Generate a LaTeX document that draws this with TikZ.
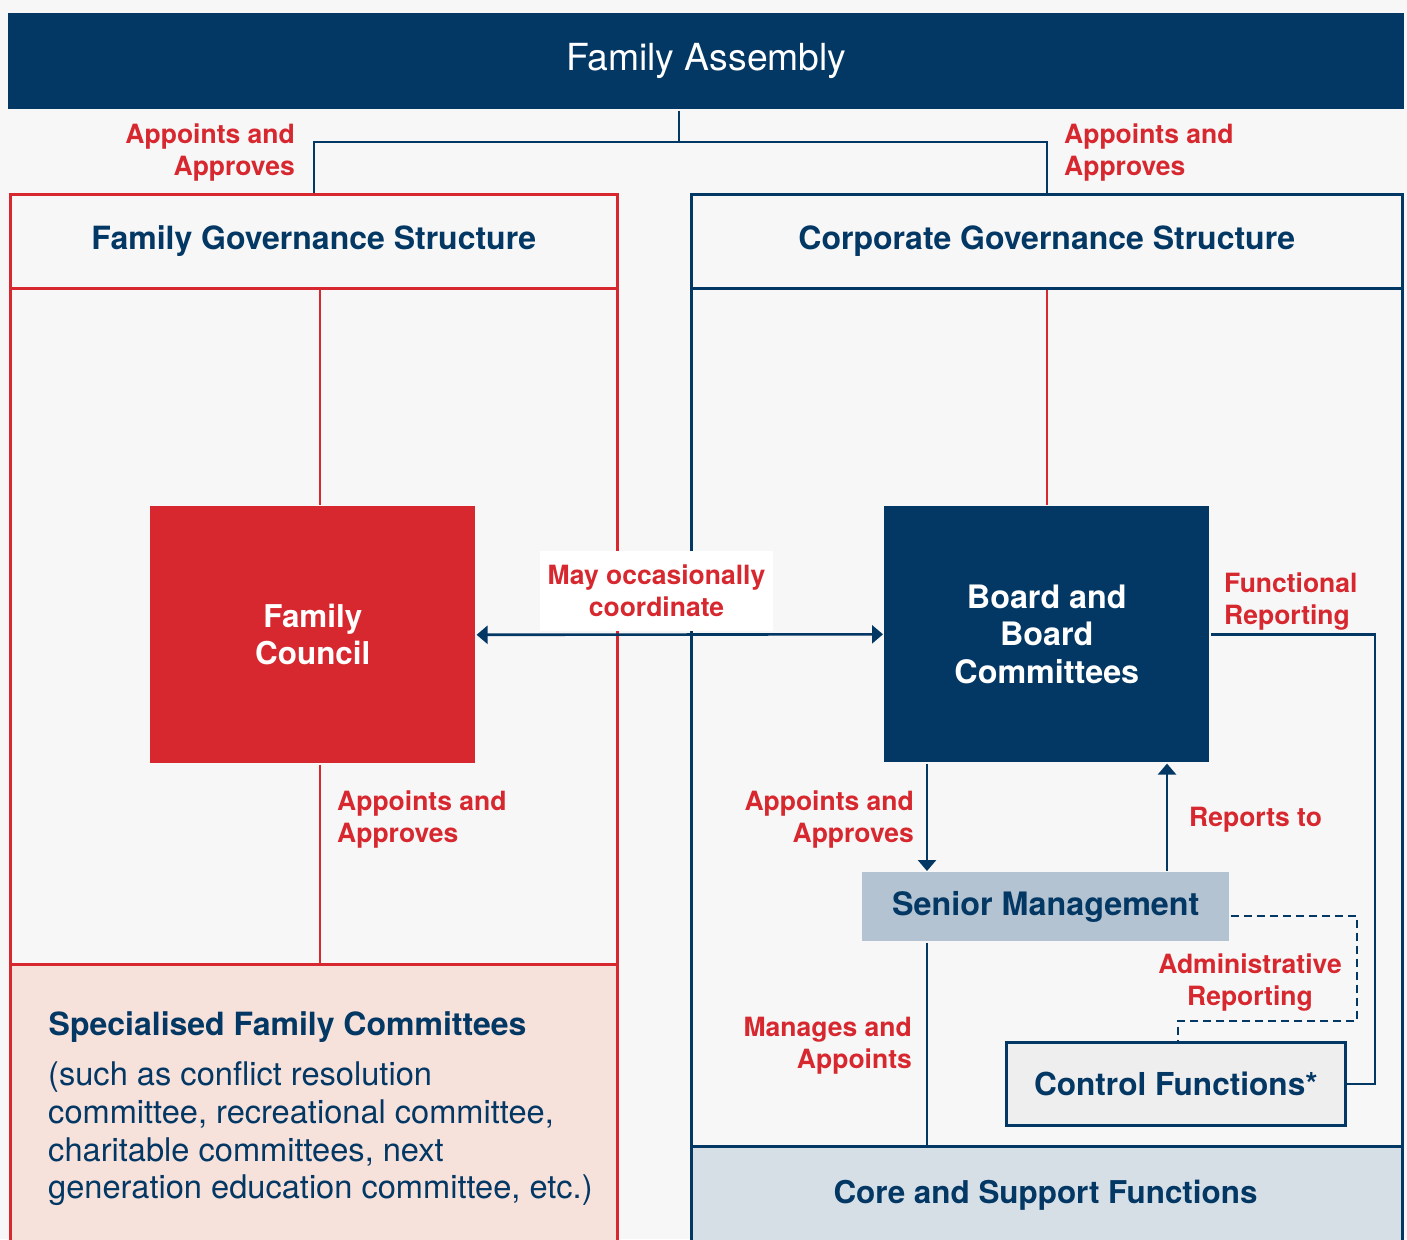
\documentclass[tikz,border=0pt]{standalone}
\usepackage{fontspec}
\setmainfont{TeX Gyre Heros}
\usetikzlibrary{arrows.meta}
\definecolor{navy}{HTML}{033764}
\definecolor{fgred}{HTML}{D7282F}
\definecolor{paper}{HTML}{F7F7F7}
\definecolor{smblue}{HTML}{B3C3D1}
\definecolor{pinkfill}{HTML}{F6E1DB}
\definecolor{corefill}{HTML}{D7DFE6}
\definecolor{ctrlfill}{HTML}{EFEEEE}
\newcommand{\fsz}[2]{\fontsize{#1}{#2}\selectfont}
\begin{document}
\begin{tikzpicture}[x=1pt,y=-1pt,
  region/.style={rectangle, inner sep=0pt, anchor=north west, line width=2.6pt},
  headtext/.style={font=\fsz{32}{37}\bfseries, text=navy},
  rlabel/.style={font=\fsz{26.5}{32}\bfseries, text=fgred, inner sep=0pt},
  navyline/.style={draw=navy, line width=2.6pt},
  redline/.style={draw=fgred, line width=2.6pt},
  tip/.style={-{Triangle[width=18pt,length=11pt]}},
  dtip/.style={{Triangle[width=18pt,length=11pt]}-{Triangle[width=18pt,length=11pt]}},
]
\useasboundingbox (0,0) rectangle (1407,1239);
\clip (0,0) rectangle (1407,1239);
\fill[paper] (0,0) rectangle (1407,1239);

% top bar
\node[region, fill=navy, minimum width=1396pt, minimum height=96pt,
      font=\fsz{37.3}{40}, text=white] (assembly) at (7,12) {Family Assembly};

% family governance column
\node[region, draw=fgred, fill=paper, minimum width=607pt, minimum height=94pt,
      headtext] (fam_head) at (9,193) {Family Governance Structure};
\node[region, draw=fgred, minimum width=607pt, minimum height=676pt] (fam_body) at (9,287) {};
\node[region, draw=fgred, fill=pinkfill, minimum width=607pt, minimum height=300pt] (fam_spec) at (9,963) {};
\node[anchor=west, inner sep=0pt, font=\fsz{32}{38}\bfseries, text=navy] (spec_title) at (48.5,1027)
  {Specialised Family Committees};
\node[anchor=west, inner sep=0pt, align=left, font=\fsz{32.6}{37.7}, text=navy] (spec_text) at (48,1134)
  {(such as conflict resolution\\committee, recreational committee,\\charitable committees, next\\generation education committee, etc.)};

% corporate governance column
\node[region, draw=navy, fill=paper, minimum width=711pt, minimum height=94pt,
      headtext] (corp_head) at (690,193) {Corporate Governance Structure};
\node[region, draw=navy, minimum width=711pt, minimum height=858pt] (corp_body) at (690,287) {};
\node[region, draw=navy, fill=corefill, minimum width=711pt, minimum height=120pt] (core) at (690,1145) {};
\node[headtext, font=\fsz{31.4}{37}\bfseries, inner sep=0pt] (core_txt) at (1045.5,1195) {Core and Support Functions};

% helper coordinates for connector positions
\coordinate (split) at (679,142);
\coordinate (famx) at (320,0);
\coordinate (downx) at (927,0);
\coordinate (upx) at (1167,0);
\coordinate (funcx) at (1375,0);
\coordinate (adm1) at (1357,916);
\coordinate (adm2) at (1357,1021);
\coordinate (adm3) at (1178,1021);

% main boxes
\node[region, fill=fgred, minimum width=325pt, minimum height=257pt, align=center,
      font=\fsz{31.4}{37}\bfseries, text=white] (council) at (149,505) {Family\\Council};
\node[region, fill=navy, minimum width=325pt, minimum height=256pt, align=center,
      font=\fsz{32.3}{37.5}\bfseries, text=white] (board) at (883,505) {Board and\\Board\\Committees};
\node[region, fill=smblue, minimum width=367pt, minimum height=69pt,
      font=\fsz{32.3}{38}\bfseries, text=navy] (senior) at (861,871) {Senior Management};
\node[region, draw=navy, fill=ctrlfill, minimum width=339pt, minimum height=83pt,
      font=\fsz{31.6}{37}\bfseries, text=navy] (ctrl) at (1005,1041) {Control Functions*};

% connectors
\draw[navyline] (assembly.south -| split) -- (split);
\draw[navyline] (fam_head.north) |- (split) -| (corp_head.north);
\draw[redline] (fam_head.south -| famx) -- (council.north -| famx);
\draw[redline] (council.south -| famx) -- (fam_spec.north -| famx);
\draw[redline] (corp_head.south) -- (board.north);
\draw[navyline, dtip] (council.east) -- (board.west);
\draw[navyline] (board.east) -- (board.east -| funcx) |- (ctrl.east);
\draw[navyline, tip] (board.south -| downx) -- (senior.north -| downx);
\draw[navyline, tip] (senior.north -| upx) -- (board.south -| upx);
\draw[navyline] (senior.south -| downx) -- (core.north -| downx);
\draw[navyline, dash pattern=on 8pt off 5pt] (senior.east |- adm1) -- (adm1) -- (adm2) -- (adm3) -- (ctrl.north -| adm3);

% connector labels
\node[rlabel, align=right, anchor=east] (lbl_fam) at (295,153) {Appoints and\\Approves};
\node[rlabel, align=left, anchor=west] (lbl_corp) at (1064,153) {Appoints and\\Approves};
\node[rlabel, align=left, anchor=west] (lbl_council) at (337,820) {Appoints and\\Approves};
\node[rlabel, align=right, anchor=east] (lbl_board) at (914,820) {Appoints and\\Approves};
\node[rlabel, anchor=west] (lbl_reports) at (1189,820) {Reports to};
\node[rlabel, align=left, anchor=west] (lbl_func) at (1224,602) {Functional\\Reporting};
\node[rlabel, align=center] (lbl_admin) at (1250,983) {Administrative\\Reporting};
\node[rlabel, align=right, anchor=east] (lbl_manage) at (912,1046) {Manages and\\Appoints};
\node[rlabel, align=center, fill=white, minimum width=233pt, minimum height=80pt] (lbl_coord)
  at (656.5,591) {May occasionally\\coordinate};
\end{tikzpicture}
\end{document}
